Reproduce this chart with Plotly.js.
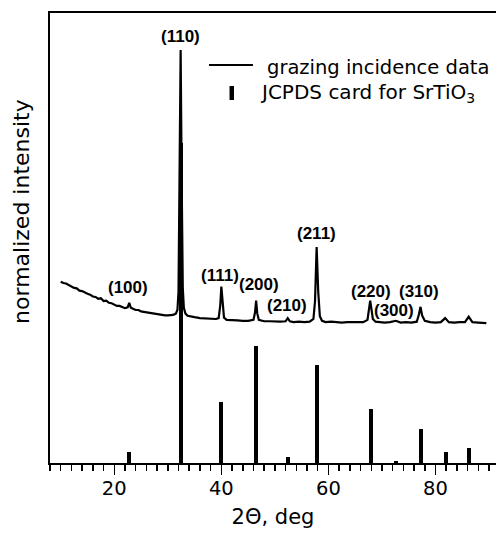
<!DOCTYPE html>
<html>
<head>
<meta charset="utf-8">
<script src="https://cdn.plot.ly/plotly-3.0.1.min.js"></script>
<style>html,body{margin:0;padding:0;background:#fff;}#chart{width:496px;height:535px;}</style>
</head>
<body>
<div id="chart"></div>
<script>
// grazing incidence XRD scan (2-theta in deg, normalized intensity)
const scanX = [10.0,10.5,11.0,11.5,12.0,12.5,13.0,13.5,14.0,14.5,15.0,15.5,16.0,16.5,17.0,17.5,18.0,18.5,19.0,19.5,
  20.0,20.5,21.0,21.5,22.0,22.5,22.8,23.1,23.5,24.0,24.5,25.0,25.5,26.0,26.5,27.0,27.5,28.0,28.5,29.0,29.5,30.0,30.5,31.0,31.5,31.8,
  32.0,32.2,32.4,32.6,32.8,33.0,33.3,33.7,34.0,35.0,36.0,37.0,38.0,39.0,39.5,39.8,40.0,40.2,40.5,41.0,42.0,43.0,44.0,45.0,
  46.0,46.3,46.5,46.7,47.0,48.0,49.0,50.0,51.0,52.0,52.4,52.8,53.5,54.5,55.5,56.5,57.2,57.5,57.8,58.1,58.4,58.8,59.5,
  60.5,61.5,62.5,63.5,64.5,65.5,66.5,67.3,67.6,67.8,68.0,68.3,68.8,69.5,70.5,71.5,72.6,73.5,74.5,75.5,76.5,76.9,77.2,77.5,
  78.0,79.0,80.0,81.0,81.8,82.5,83.5,84.5,85.5,86.2,86.9,88.0,89.0,89.5];
const scanY = [40.3,40.0,39.9,39.5,39.3,38.9,38.8,38.3,38.2,37.8,37.6,37.4,37.0,36.9,36.5,36.6,36.0,36.1,35.6,35.5,
  35.2,34.9,34.9,34.6,34.4,34.6,35.6,34.5,34.2,34.0,34.0,33.7,33.6,33.5,33.4,33.2,33.2,33.0,33.0,32.9,32.8,32.8,32.8,32.9,33.2,34.0,
  38.0,60.0,91.8,62.0,39.0,34.5,33.2,32.7,32.6,32.4,32.2,32.1,32.0,32.0,32.2,35.0,39.2,35.5,32.3,31.8,31.8,31.7,31.6,31.6,
  31.8,33.5,36.1,33.3,31.8,31.5,31.5,31.4,31.4,31.5,32.2,31.5,31.3,31.4,31.3,31.4,32.0,36.0,48.0,38.0,32.6,31.6,31.3,
  31.4,31.3,31.2,31.3,31.3,31.2,31.3,31.8,34.0,36.1,34.5,32.0,31.4,31.3,31.2,31.3,31.6,31.2,31.3,31.2,31.4,33.0,34.7,32.8,
  31.6,31.3,31.2,31.3,32.2,31.3,31.2,31.3,31.3,32.5,31.3,31.2,31.2,31.1];

// JCPDS reference card for SrTiO3
const cardX = [22.8, 32.4, 39.95, 46.45, 52.4, 57.8, 67.9, 72.6, 77.2, 81.9, 86.3];
const cardY = [2.5, 71.1, 13.5, 26.0, 1.3, 21.7, 11.9, 0.5, 7.5, 2.5, 3.3];

// peak labels (Miller indices)
const peakLabels = ['(110)','(100)','(111)','(200)','(210)','(211)','(220)','(300)','(310)'];
const labelX = [32.4, 22.6, 39.75, 47.0, 52.3, 57.7, 68.0, 72.25, 76.9];
const labelY = [94.7, 39.1, 41.6, 39.6, 34.9, 51.1, 38.2, 34.0, 38.2];

const xTicks = [20, 40, 60, 80];

const traces = [
  {type:'bar', x:cardX, y:cardY, width:0.75, marker:{color:'#000', line:{width:0}}, name:'JCPDS card for SrTiO3', hoverinfo:'skip'},
  {type:'scatter', mode:'lines', x:scanX, y:scanY, line:{color:'#000', width:2.2}, name:'grazing incidence data'}
];

const labelFont = {family:'Liberation Sans Narrow, Arial Narrow, Liberation Sans, sans-serif', size:17, color:'#000', weight:'bold'};
const annotations = peakLabels.map((t,i)=>({
  text:'<b>'+t+'</b>', x:labelX[i], y:labelY[i], xref:'x', yref:'y', showarrow:false,
  font:labelFont, xanchor:'center', yanchor:'middle'
}));
const sans = 'DejaVu Sans, sans-serif';
annotations.push(
  {text:'grazing incidence data', xref:'paper', yref:'paper', x:0.482, y:0.880, xanchor:'left', yanchor:'middle', showarrow:false, font:{family:sans, size:19.5, color:'#000'}},
  {text:'JCPDS card for SrTiO<sub>3</sub>', xref:'paper', yref:'paper', x:0.466, y:0.823, xanchor:'left', yanchor:'middle', showarrow:false, font:{family:sans, size:20, color:'#000'}},
  {text:'normalized intensity', xref:'paper', yref:'paper', x:-0.063, y:0.56, xanchor:'center', yanchor:'middle', textangle:-90, showarrow:false, font:{family:sans, size:22, color:'#000'}}
);

const layout = {
  width:496, height:535,
  margin:{l:50, r:0, t:13, b:72},
  paper_bgcolor:'#fff', plot_bgcolor:'#fff',
  showlegend:false,
  bargap:0,
  xaxis:{
    range:[8, 91.3], showline:true, linecolor:'#000', linewidth:2, mirror:true,
    showgrid:false, zeroline:false,
    ticks:'outside', ticklen:10, tickwidth:1.5, tickcolor:'#000',
    tickmode:'array', tickvals:xTicks, ticktext:xTicks.map(String),
    tickfont:{family:sans, size:19.5, color:'#000'}, ticklabelstandoff:-3,
    minor:{tickmode:'linear', tick0:0, dtick:2, ticks:'outside', ticklen:6, tickwidth:1.5, tickcolor:'#000', showgrid:false},
    title:{text:'2Θ, deg', font:{family:sans, size:21, color:'#000'}, standoff:10},
    automargin:false
  },
  yaxis:{
    range:[0,100], showline:true, linecolor:'#000', linewidth:2, mirror:false,
    showgrid:false, zeroline:false, showticklabels:false, ticks:'', automargin:false
  },
  shapes:[
    {type:'line', xref:'paper', yref:'paper', x0:0.3565, x1:0.455, y0:0.8844, y1:0.8844, line:{color:'#000', width:2}},
    {type:'rect', xref:'paper', yref:'paper', x0:0.4025, x1:0.4126, y0:0.8067, y1:0.8378, fillcolor:'#000', line:{width:0}}
  ],
  annotations:annotations
};

Plotly.newPlot('chart', traces, layout, {staticPlot:true, displayModeBar:false});
</script>
</body>
</html>
